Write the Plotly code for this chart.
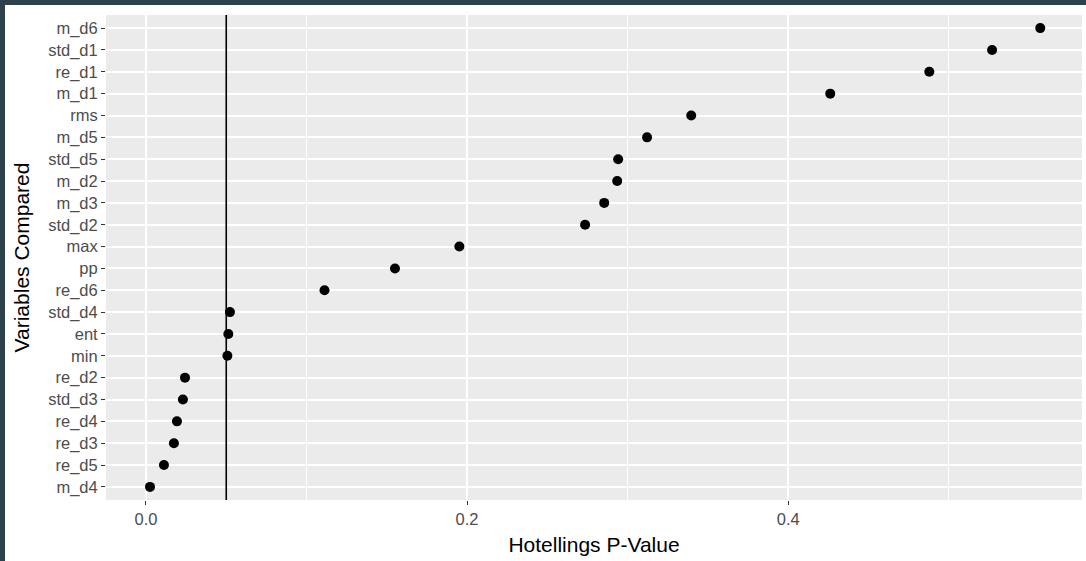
import plotly.graph_objects as go

# Data (bottom to top)
variables = ["m_d4", "re_d5", "re_d3", "re_d4", "std_d3", "re_d2", "min", "ent", "std_d4",
             "re_d6", "pp", "max", "std_d2", "m_d3", "m_d2", "std_d5", "m_d5", "rms",
             "m_d1", "re_d1", "std_d1", "m_d6"]
p_values = [0.0025, 0.0112, 0.0174, 0.0193, 0.0230, 0.0243, 0.0507, 0.0513, 0.0523,
            0.1112, 0.1551, 0.1952, 0.2735, 0.2854, 0.2935, 0.2941, 0.3121, 0.3396,
            0.4262, 0.4879, 0.5270, 0.5570]
threshold = 0.05
x_tickvals = [0.0, 0.2, 0.4]
x_ticktext = ["0.0", "0.2", "0.4"]
x_minor = [0.1, 0.3, 0.5]

W, H = 1086, 561
ML, MR, MT, MB = 106, 4, 15, 61
PW, PH = W - ML - MR, H - MT - MB

fig = go.Figure()
fig.add_trace(go.Scatter(
    x=p_values, y=variables, mode="markers",
    marker=dict(color="black", size=10),
    hoverinfo="x+y", showlegend=False,
))

fig.add_vline(x=threshold, line=dict(color="black", width=1.6), layer="above")

# dark screenshot border (top and left)
border = "#2d414b"
def px_x(p):
    return (p - ML) / PW
def px_y(p):
    return (H - MB - p) / PH
fig.add_shape(type="rect", xref="paper", yref="paper",
              x0=px_x(0), x1=px_x(5), y0=px_y(H), y1=px_y(0),
              fillcolor=border, line=dict(width=0), layer="above")
fig.add_shape(type="rect", xref="paper", yref="paper",
              x0=px_x(0), x1=px_x(W), y0=px_y(5), y1=px_y(0),
              fillcolor=border, line=dict(width=0), layer="above")

font_fam = "Liberation Sans, Arial, sans-serif"
fig.update_layout(
    width=W, height=H,
    margin=dict(l=ML, r=MR, t=MT, b=MB),
    paper_bgcolor="white", plot_bgcolor="#EBEBEB",
    font=dict(family=font_fam),
    xaxis=dict(
        range=[-0.0249, 0.583],
        tickmode="array", tickvals=x_tickvals, ticktext=x_ticktext,
        showgrid=True, gridcolor="white", gridwidth=2,
        zeroline=False, showline=False,
        ticks="outside", ticklen=4, tickwidth=1.2, tickcolor="#333333",
        tickfont=dict(size=16.5, color="#4D4D4D"),
        minor=dict(tickmode="array", tickvals=x_minor, showgrid=True,
                   gridcolor="white", gridwidth=1, ticks=""),
        title=dict(text="Hotellings P-Value", font=dict(size=21, color="black"), standoff=10),
        automargin=False,
    ),
    yaxis=dict(
        type="category", categoryorder="array", categoryarray=variables,
        range=[-0.6, len(variables) - 0.4],
        showgrid=True, gridcolor="white", gridwidth=2,
        zeroline=False, showline=False,
        ticks="outside", ticklen=4, tickwidth=1.2, tickcolor="#333333",
        tickfont=dict(size=16.5, color="#4D4D4D"),
        title=dict(text="Variables Compared", font=dict(size=21, color="black"), standoff=12),
        automargin=False,
    ),
)

fig.write_html("out.html",
               config={"displayModeBar": False},
               post_script="document.body.style.margin='0';document.body.style.padding='0';document.body.style.overflow='hidden';")
